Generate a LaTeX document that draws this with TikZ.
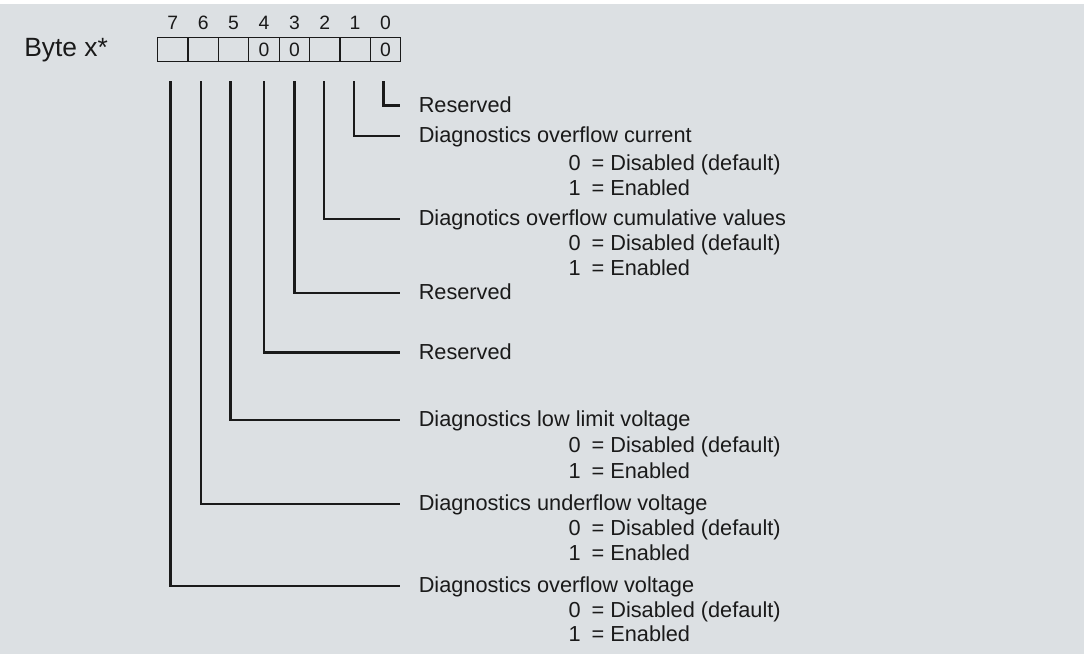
\documentclass[tikz,border=0pt]{standalone}
\usepackage{fontspec}
\setmainfont{Liberation Sans}
\usepackage{tikz}
\usetikzlibrary{positioning,calc}

\definecolor{panelgray}{RGB}{220,224,227}
\definecolor{inkgray}{RGB}{26,26,26}

\begin{document}
\begin{tikzpicture}[
    x=0.75pt,y=-0.75pt,
    bitcell/.style={draw=inkgray,line width=0.9pt,minimum width=22.8pt,
      minimum height=18.3pt,inner sep=0pt,text=inkgray,
      font=\fontsize{14.5}{16}\selectfont},
    bitnum/.style={inner sep=0pt,text=inkgray,font=\fontsize{14.5}{16}\selectfont},
    fieldlabel/.style={anchor=west,inner sep=0pt,text height=11pt,
      text depth=1.25pt,text=inkgray,font=\fontsize{16.3}{19}\selectfont},
    optlabel/.style={anchor=base west,inner sep=0pt,text=inkgray,
      font=\fontsize{16.3}{19}\selectfont},
    wire/.style={draw=inkgray,line width=1.7pt}
  ]
    \fill[white] (0,0) rectangle (1084,654);
    \fill[panelgray] (0,4) rectangle (1084,654);

    \node[anchor=base west,inner sep=0pt,text=inkgray,
      font=\fontsize{19.8}{22}\selectfont] (byte) at (24,56.5) {Byte x*};

    % the byte, bit 7 on the left
    \node[bitcell] (b7) at (172.8,49.5) {};
    \node[bitcell] (b6) at (203.2,49.5) {};
    \node[bitcell] (b5) at (233.6,49.5) {};
    \node[bitcell] (b4) at (264.0,49.5) {0};
    \node[bitcell] (b3) at (294.4,49.5) {0};
    \node[bitcell] (b2) at (324.8,49.5) {};
    \node[bitcell] (b1) at (355.1,49.5) {};
    \node[bitcell] (b0) at (385.5,49.5) {0};
    \node[bitnum,above=5pt of b7] (n7) {7};
    \node[bitnum,above=5pt of b6] (n6) {6};
    \node[bitnum,above=5pt of b5] (n5) {5};
    \node[bitnum,above=5pt of b4] (n4) {4};
    \node[bitnum,above=5pt of b3] (n3) {3};
    \node[bitnum,above=5pt of b2] (n2) {2};
    \node[bitnum,above=5pt of b1] (n1) {1};
    \node[bitnum,above=5pt of b0] (n0) {0};

    % meaning of each bit
    \node[fieldlabel] (f0) at (418.5,105.5) {Reserved};
    \node[fieldlabel] (f1) at (418.5,136.0) {Diagnostics overflow current};
    \node[optlabel] (f1a) at (568.4,170.0) {0\enspace= Disabled (default)};
    \node[optlabel] (f1b) at (568.4,195.0) {1\enspace= Enabled};
    \node[fieldlabel] (f2) at (418.5,218.7) {Diagnotics overflow cumulative values};
    \node[optlabel] (f2a) at (568.4,250.7) {0\enspace= Disabled (default)};
    \node[optlabel] (f2b) at (568.4,275.0) {1\enspace= Enabled};
    \node[fieldlabel] (f3) at (418.5,293.3) {Reserved};
    \node[fieldlabel] (f4) at (418.5,352.5) {Reserved};
    \node[fieldlabel] (f5) at (418.5,419.7) {Diagnostics low limit voltage};
    \node[optlabel] (f5a) at (568.4,452.7) {0\enspace= Disabled (default)};
    \node[optlabel] (f5b) at (568.4,478.3) {1\enspace= Enabled};
    \node[fieldlabel] (f6) at (418.5,504.0) {Diagnostics underflow voltage};
    \node[optlabel] (f6a) at (568.4,535.5) {0\enspace= Disabled (default)};
    \node[optlabel] (f6b) at (568.4,560.0) {1\enspace= Enabled};
    \node[fieldlabel] (f7) at (418.5,585.8) {Diagnostics overflow voltage};
    \node[optlabel] (f7a) at (568.4,617.0) {0\enspace= Disabled (default)};
    \node[optlabel] (f7b) at (568.4,641.7) {1\enspace= Enabled};

    \draw[wire] (b0.south) ++(-2,19) |- ($(f0.west)+(-18.5,0)$);
    \draw[wire] (b1.south) ++(-1,19) |- ($(f1.west)+(-18.5,0)$);
    \draw[wire] (b2.south) ++(-0.5,19) |- ($(f2.west)+(-18.5,0)$);
    \draw[wire] (b3.south) ++(0,19) |- ($(f3.west)+(-18.5,0)$);
    \draw[wire] (b4.south) ++(0,19) |- ($(f4.west)+(-18.5,0)$);
    \draw[wire] (b5.south) ++(-3,19) |- ($(f5.west)+(-18.5,0)$);
    \draw[wire] (b6.south) ++(-2,19) |- ($(f6.west)+(-18.5,0)$);
    \draw[wire] (b7.south) ++(-2.3,19) |- ($(f7.west)+(-18.5,0)$);
  \end{tikzpicture}
\end{document}
